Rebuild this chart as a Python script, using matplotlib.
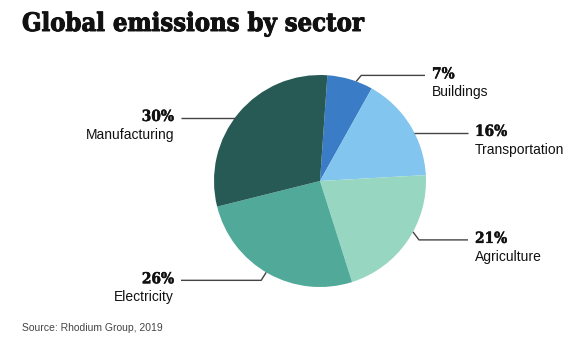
import matplotlib
matplotlib.use("Agg")
import matplotlib.pyplot as plt
import matplotlib.patheffects as pe
import numpy as np

sectors = ["Buildings", "Transportation", "Agriculture", "Electricity", "Manufacturing"]
shares = [7, 16, 21, 26, 30]
colors = ["#3a7cc6", "#82c5ef", "#97d7c2", "#51a99a", "#275a55"]

W, H = 569, 348
fig = plt.figure(figsize=(W / 100, H / 100), dpi=100)
ax = fig.add_axes([0, 0, 1, 1])

cx, cy, R = 320, 348 - 181, 106
wedges, _ = ax.pie(shares, colors=colors, startangle=86, counterclock=False,
                   center=(cx, cy), radius=R, wedgeprops=dict(linewidth=0),
                   frame=True)
ax.set_xlim(0, W)
ax.set_ylim(0, H)
ax.set_aspect("equal")
ax.axis("off")

# label layout: (edge angle deg, elbow dx, elbow dy, line end x, side)
layout = {
    "Buildings": (70, 5, 6, 425, "right"),
    "Transportation": (27, 0, 0, 468, "right"),
    "Agriculture": (-28.7, 6, -8, 468, "right"),
    "Electricity": (-120.5, -5, -8, 181, "left"),
    "Manufacturing": (143.5, 0, 0, 181, "left"),
}

serif = ["DejaVu Serif"]
sans = ["Liberation Sans", "DejaVu Sans"]
bold_fx = [pe.withStroke(linewidth=0.3, foreground="#111111")]
for name, val in zip(sectors, shares):
    ang, ex, ey, lx, side = layout[name]
    a = np.deg2rad(ang)
    x0, y0 = cx + R * np.cos(a), cy + R * np.sin(a)
    x1, y1 = x0 + ex, y0 + ey
    ax.plot([x0, x1, lx], [y0, y1, y1], color="#444444", lw=1.0,
            solid_capstyle="butt")
    if side == "right":
        tx, ha = lx + 7, "left"
    else:
        tx, ha = lx - 7, "right"
    ax.text(tx, y1 + 1, f"{val}%", ha=ha, va="center", family=serif,
            weight="bold", stretch="condensed", fontsize=11, color="#111111",
            path_effects=bold_fx)
    ax.text(tx, y1 - 17, name, ha=ha, va="center", family=sans,
            fontsize=10, color="#111111")

fig.text(22 / W, 1 - 24 / H, "Global emissions by sector", family=serif,
         weight="bold", stretch="condensed", fontsize=18.3, va="center",
         ha="left", color="#111111",
         path_effects=[pe.withStroke(linewidth=0.7, foreground="#111111")])
fig.text(22 / W, 1 - 328 / H, "Source: Rhodium Group, 2019", family=sans,
         fontsize=7.5, va="center", ha="left", color="#444444")

fig.savefig("out.png", dpi=100)
